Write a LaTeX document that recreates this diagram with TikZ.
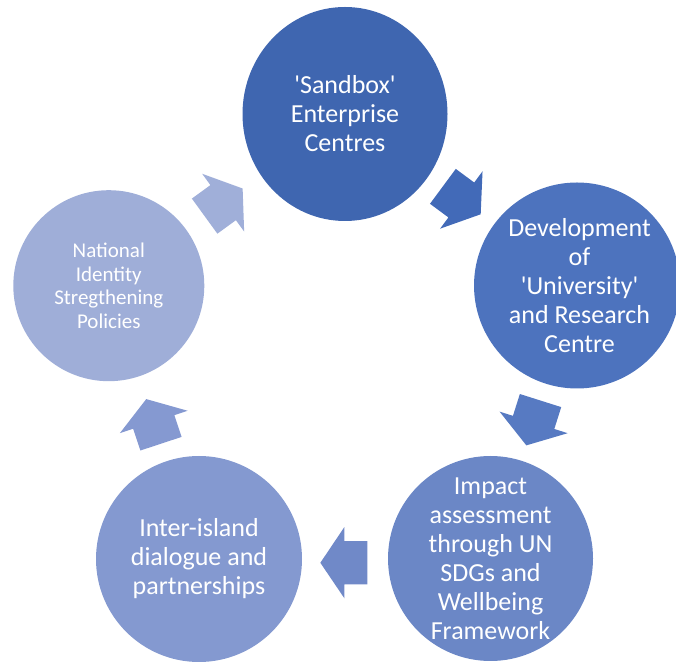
\documentclass[tikz,border=0pt]{standalone}
\usepackage{fontspec}
\setmainfont{Carlito}[Ligatures=TeXOff]
\usetikzlibrary{shapes.geometric,shapes.arrows}
\definecolor{c1}{HTML}{3F66B0}
\definecolor{c2}{HTML}{4D73BE}
\definecolor{c3}{HTML}{6B87C6}
\definecolor{c4}{HTML}{8499D0}
\definecolor{c5}{HTML}{9FAED8}
\definecolor{a1}{HTML}{426AB8}
\definecolor{a2}{HTML}{577AC2}
\definecolor{a3}{HTML}{7089C8}
\definecolor{a4}{HTML}{8599D1}
\definecolor{a5}{HTML}{A0AFD9}
\begin{document}
\begin{tikzpicture}[x=1pt,y=1pt,
  stage/.style={circle, inner sep=0pt, text=white, align=center,
    font=\fontsize{26}{29}\selectfont},
  flow/.style={single arrow, single arrow head extend=14pt,
    single arrow tip angle=112, minimum height=47pt,
    inner xsep=0pt, inner ysep=21.5pt, sloped, allow upside down,
    draw=none, pos=0.478}]
\useasboundingbox (0,0) rectangle (676,668);
\begin{scope}
\clip (0,0) rectangle (676,668);
\node[stage, ellipse, fill=c1, minimum width=205pt, minimum height=214pt]
  (s1) at (345,554) {'Sandbox'\\Enterprise\\Centres};
\node[stage, fill=c2, minimum size=206pt] (s2) at (577,382.5)
  {\hspace*{5pt}Development\\\hspace*{5pt}of\\\hspace*{5pt}'University'\\\hspace*{5pt}and Research\\\hspace*{5pt}Centre};
\node[stage, fill=c3, minimum size=205pt] (s3) at (490.5,109.5)
  {Impact\\assessment\\through UN\\SDGs and\\Wellbeing\\Framework};
\node[stage, fill=c4, minimum size=206pt] (s4) at (199,109)
  {Inter-island\\dialogue and\\partnerships};
\node[stage, fill=c5, minimum size=191pt,
  font=\fontsize{21}{23.7}\selectfont] (s5) at (108.8,382.3)
  {National\\Identity\\Stregthening\\Policies};
\end{scope}
\path (s1.center) -- node[flow, fill=a1] (f1) {} (s2.center);
\path (s2.center) -- node[flow, fill=a2] (f2) {} (s3.center);
\path ([yshift=-4pt]s3.center) -- node[flow, fill=a3] (f3) {} ([yshift=-4pt]s4.center);
\path (s4.center) -- node[flow, fill=a4] (f4) {} (s5.center);
\path ([shift={(-4pt,-3pt)}]s5.center) -- node[flow, fill=a5] (f5) {} ([shift={(-4pt,-3pt)}]s1.center);
\end{tikzpicture}
\end{document}
